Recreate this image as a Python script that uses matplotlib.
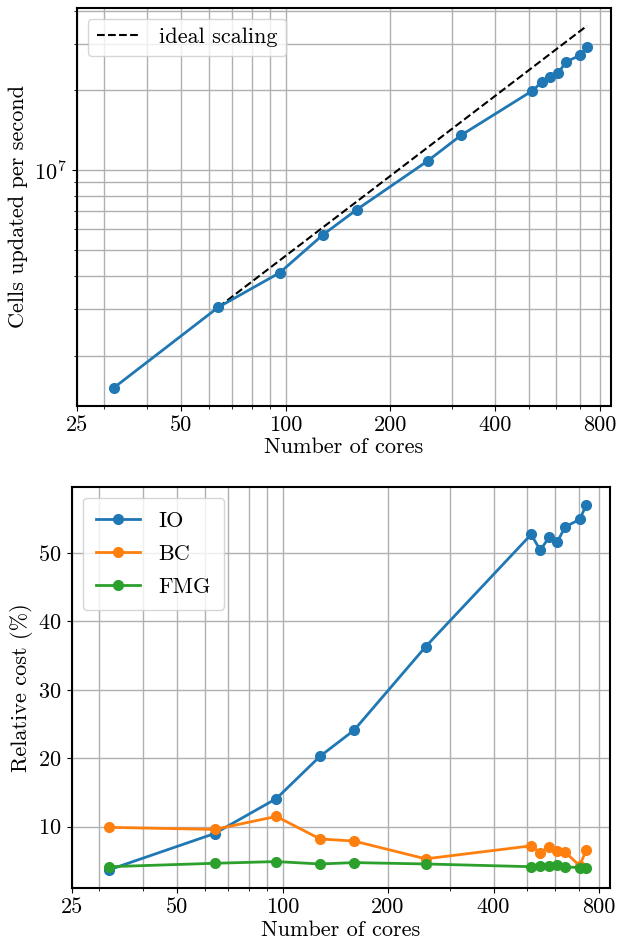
import matplotlib
matplotlib.use("Agg")
import matplotlib.pyplot as plt

plt.rcParams['font.family'] = 'serif'
plt.rcParams['font.serif'] = ['cmr10']
plt.rcParams['mathtext.fontset'] = 'cm'
plt.rcParams['axes.formatter.use_mathtext'] = True
plt.rcParams['axes.unicode_minus'] = False
plt.rcParams['font.size'] = 16

# strong scaling run
cores = [32, 64, 96, 128, 160, 256, 320, 512, 544, 576, 608, 640, 704, 736]
cells_per_sec = [1.515e6, 3.05e6, 4.11e6, 5.72e6, 7.11e6, 1.085e7, 1.358e7,
                 1.994e7, 2.145e7, 2.254e7, 2.327e7, 2.562e7, 2.716e7, 2.92e7]

# cost breakdown (no 320-core run)
cost_cores = [32, 64, 96, 128, 160, 256, 512, 544, 576, 608, 640, 704, 736]
io_cost = [3.7, 9.0, 14.1, 20.3, 24.1, 36.3, 52.7, 50.4, 52.3, 51.6, 53.8, 54.9, 57.0]
bc_cost = [9.9, 9.6, 11.5, 8.2, 7.9, 5.3, 7.2, 6.2, 7.1, 6.4, 6.3, 4.3, 6.6]
fmg_cost = [4.15, 4.65, 4.9, 4.55, 4.75, 4.55, 4.15, 4.3, 4.3, 4.35, 4.15, 4.0, 4.0]

xticks = [25, 50, 100, 200, 400, 800]

# ideal scaling anchored at the 64-core run
base = cores.index(64)
ideal_x = cores[base:]
ideal_y = [cells_per_sec[base] * c / cores[base] for c in ideal_x]

fig = plt.figure(figsize=(6.17, 9.44), dpi=100)
ax1 = fig.add_axes([0.124, 0.570, 0.866, 0.422])
ax2 = fig.add_axes([0.116, 0.0593, 0.873, 0.425])

ax1.plot(ideal_x, ideal_y, 'k--', lw=1.5, label='ideal scaling')
ax1.plot(cores, cells_per_sec, 'o-', color='C0', lw=2, ms=7)
ax1.set_xscale('log')
ax1.set_yscale('log')
ax1.set_ylabel('Cells updated per second')
ax1.legend(loc='upper left')

ax2.plot(cost_cores, io_cost, 'o-', lw=2, ms=7, label='IO')
ax2.plot(cost_cores, bc_cost, 'o-', lw=2, ms=7, label='BC')
ax2.plot(cost_cores, fmg_cost, 'o-', lw=2, ms=7, label='FMG')
ax2.set_xscale('log')
ax2.set_ylabel('Relative cost (%)')
ax2.set_yticks([10, 20, 30, 40, 50])
ax2.legend(loc='upper left', borderpad=0.6, labelspacing=0.6)

for ax in (ax1, ax2):
    ax.set_xlim(25, 861)
    ax.set_xticks(xticks)
    ax.set_xticklabels([str(t) for t in xticks])
    ax.set_xlabel('Number of cores', labelpad=2)
    ax.grid(True, which='both', color='#b0b0b0', lw=1)
    ax.set_axisbelow(True)
    for s in ax.spines.values():
        s.set_linewidth(1.5)

fig.savefig('out.png', dpi=100)
